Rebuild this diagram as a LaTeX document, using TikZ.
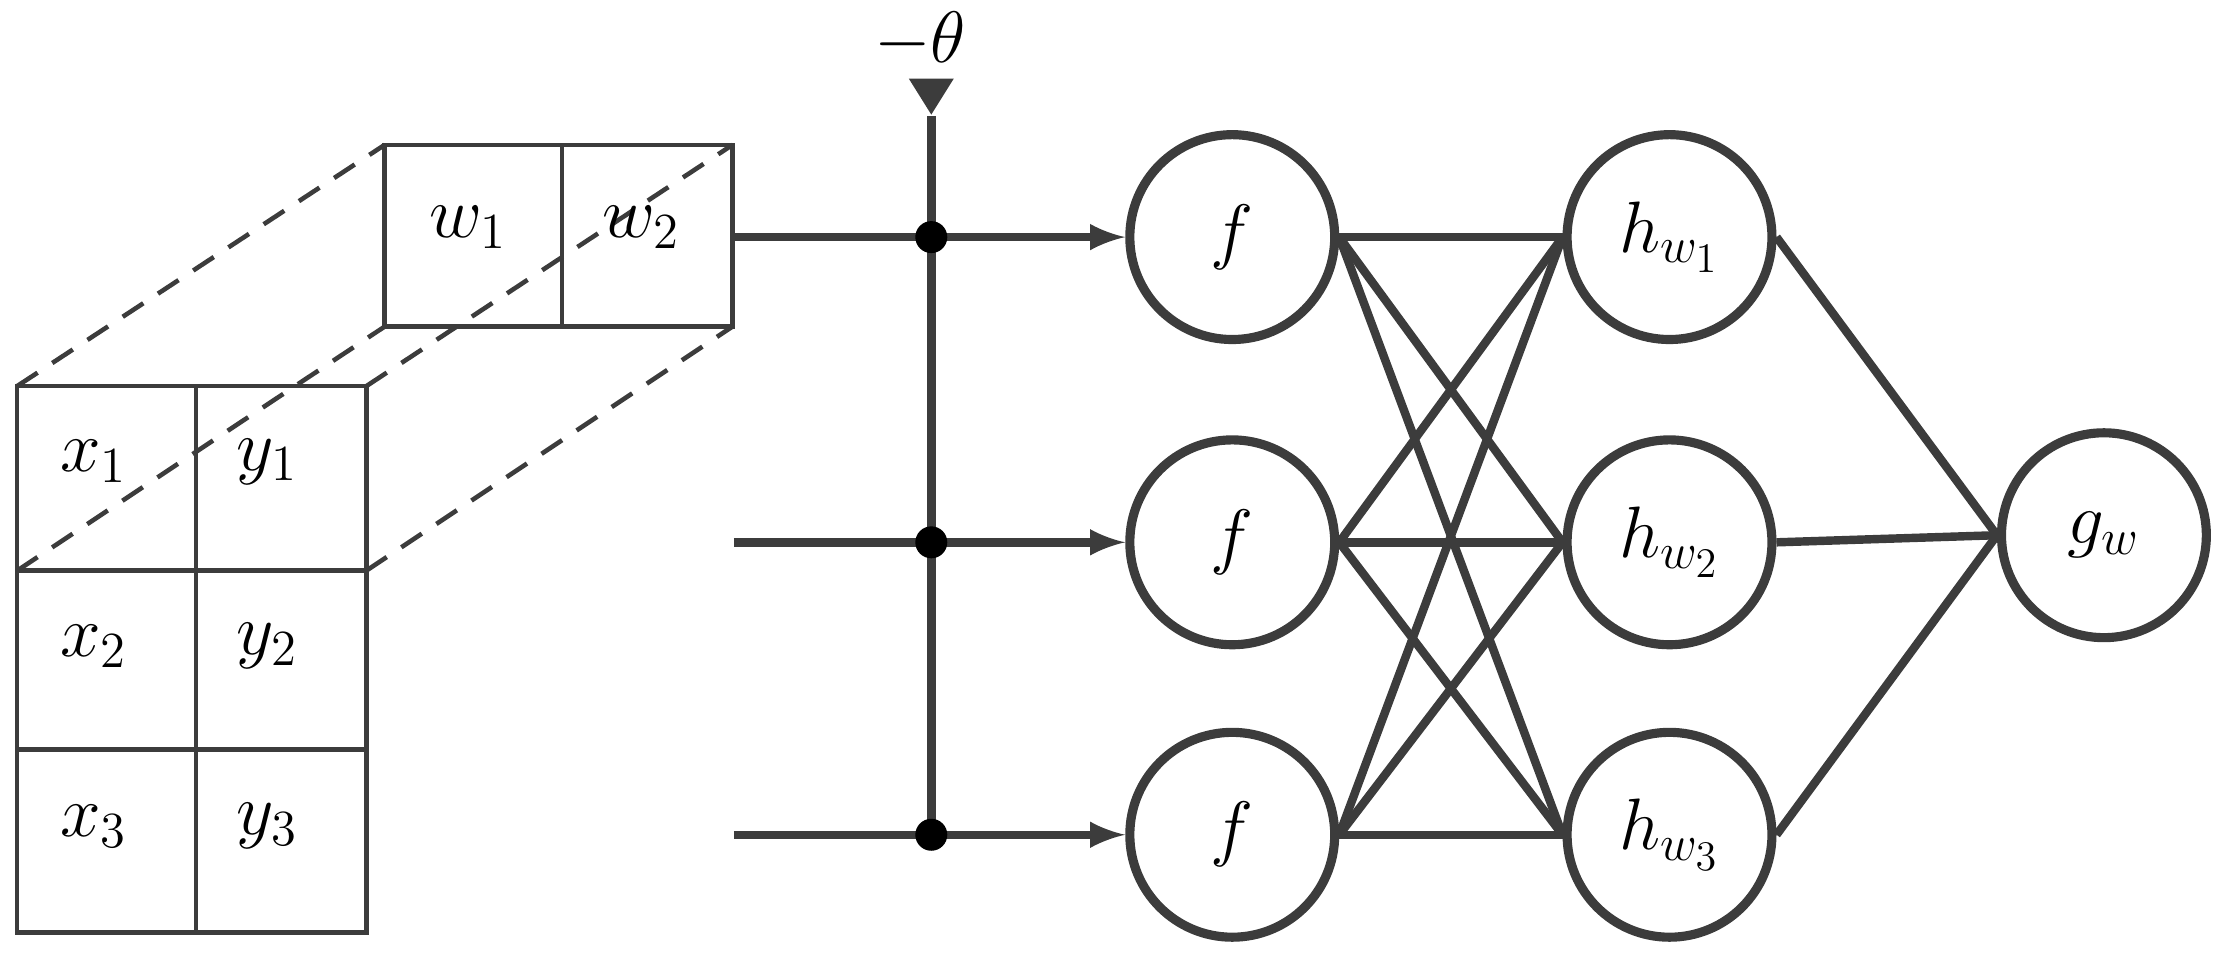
\documentclass[tikz,border=0pt]{standalone}
\usepackage{amsmath}
\usepackage{xcolor}
\usepackage{tikz}
\usetikzlibrary{arrows,positioning,calc,shapes.geometric}
\definecolor{edge}{RGB}{60,60,60}
\begin{document}
\begin{tikzpicture}[x=0.0142cm,y=-0.0142cm,
    neuron/.style={circle,draw=edge,line width=2.6pt,minimum size=2.05cm,inner sep=0pt,font=\huge},
    cell/.style={font=\huge},
    grid/.style={draw=edge,line width=1.3pt},
    wire/.style={draw=edge,line width=2.4pt},
    dot/.style={circle,fill=black,inner sep=0pt,minimum size=0.32cm}]
\useasboundingbox (0,0) rectangle (1568,678);
% boxes
\draw[grid] (12,272) rectangle (258,657);
\draw[grid] (138,272) -- (138,657) (12,402) -- (258,402) (12,528) -- (258,528);
\draw[grid] (271,102) rectangle (516,230);
\draw[grid] (396,102) -- (396,230);
\draw[grid,dashed,dash pattern=on 7pt off 5pt] (12,272) -- (271,102) (12,402) -- (271,230)
    (258,272) -- (516,102) (258,402) -- (516,230);
\node[cell] (w1) at (330,160) {$w_1$};
\node[cell] (w2) at (452,160) {$w_2$};
\foreach \i/\y in {1/325,2/455,3/582}{
    \node[cell] (x\i) at (66,\y) {$x_\i$};
    \node[cell] (y\i) at (188,\y) {$y_\i$};
}
% neurons
\foreach \i/\y in {1/167,2/382,3/588}{
    \node[neuron] (f\i) at (868,\y) {$f$};
    \coordinate (j\i) at (656,\y);
    \coordinate (in\i) at (517,\y);
}
\node[neuron] (h1) at (1176,167) {$h_{w_1}$};
\node[neuron] (h2) at (1176,382) {$h_{w_2}$};
\node[neuron] (h3) at (1176,588) {$h_{w_3}$};
\node[neuron] (g) at (1482,377) {$g_w$};
% bias
\node[isosceles triangle,shape border rotate=-90,fill=edge,inner sep=0pt,minimum width=0.45cm,minimum height=0.36cm,isosceles triangle stretches,anchor=apex] (tri) at (656,82) {};
\node[font=\huge,inner sep=0pt] (theta) at (648,28) {$-\theta$};
\draw[wire] (tri.apex) -- (j3);
\foreach \i in {1,2,3}{
    \draw[wire,-latex] (in\i) -- (f\i.west);
    \foreach \j in {1,2,3}
        \draw[wire] (f\i.east) -- (h\j.west);
    \draw[wire] (h\i.east) -- (g.west);
    \node[dot] (d\i) at (j\i) {};
}
\end{tikzpicture}
\end{document}
